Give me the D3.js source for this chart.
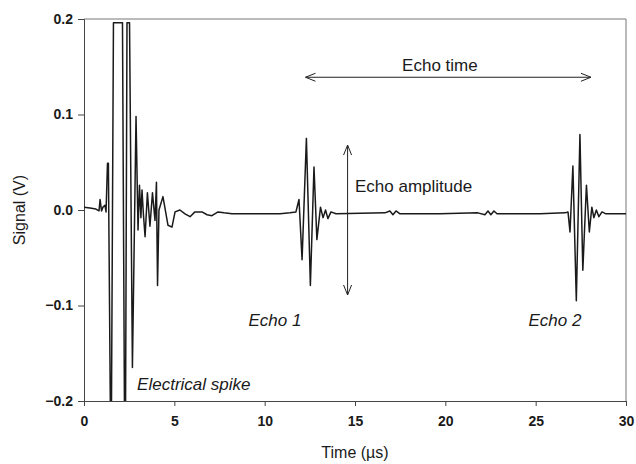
<!DOCTYPE html>
<html>
<head>
<meta charset="utf-8">
<script src="https://cdn.jsdelivr.net/npm/d3@7"></script>
<style>
  html, body { margin: 0; padding: 0; background: #fff; }
  svg text { font-family: 'Liberation Sans', Arial, sans-serif; fill: #1a1a1a; }
</style>
</head>
<body>
<div id="chart"></div>
<script>
// Ultrasonic pulse-echo trace: time (µs) vs signal (V)
const TIME = [
  0, 0.33, 0.66, 0.83, 0.89, 0.97, 1.05, 1.16, 1.22, 1.30, 1.35,
  1.46, 1.52, 1.63, 2.13, 2.24, 2.30, 2.38, 2.52, 2.68, 2.88,
  2.99, 3.07, 3.15, 3.21, 3.29, 3.38, 3.51, 3.65, 3.79, 3.93, 4.01, 4.07, 4.15,
  4.37, 4.65, 4.87, 5.04, 5.31, 5.59, 5.87, 6.14, 6.53, 6.81, 7.08, 7.42, 7.75,
  8.19, 8.91, 9.74, 10.85, 11.40, 11.73,
  11.90, 12.07, 12.31, 12.53, 12.73, 12.89, 13.09, 13.23, 13.37, 13.50, 13.67, 13.95,
  16.66, 16.93, 17.10, 17.27, 17.49, 19.70, 21.80, 22.19, 22.36, 22.52, 22.69, 22.86,
  25.24, 26.62, 26.79,
  26.90, 27.06, 27.25, 27.45, 27.61, 27.81, 27.97, 28.11, 28.22, 28.36, 28.50, 28.67, 28.89,
  30
];
const SIGNAL = [
  0.003, 0.002, 0.001, -0.001, 0.011, -0.001, 0.003, 0.005, -0.002, 0.049, 0.049,
  -0.21, -0.21, 0.196, 0.196, -0.21, -0.21, 0.196, 0.196, -0.165, 0.098,
  -0.021, 0.026, -0.008, 0.021, -0.005, -0.028, 0.018, -0.017, 0.018, -0.011, 0.029, -0.079, 0.0,
  0.014, -0.016, -0.018, -0.002, 0.0, -0.004, -0.007, -0.002, -0.002, -0.005, -0.006, -0.002, -0.003,
  -0.004, -0.004, -0.004, -0.004, -0.003, -0.002,
  0.011, -0.052, 0.075, -0.079, 0.045, -0.031, 0.003, -0.008, 0.0, -0.009, -0.002, -0.004,
  -0.003, -0.001, -0.005, -0.001, -0.004, -0.004, -0.003, -0.005, -0.001, -0.005, -0.001, -0.004,
  -0.004, -0.003, -0.002,
  -0.023, 0.046, -0.095, 0.079, -0.063, 0.026, -0.023, 0.003, -0.008, 0.0, -0.007, -0.002, -0.004,
  -0.004
];
const X_TICKS = [0, 5, 10, 15, 20, 25, 30];
const Y_TICKS = [0.2, 0.1, 0.0, -0.1, -0.2];
const X_LABEL = 'Time (\u00b5s)';
const Y_LABEL = 'Signal (V)';

// annotations, in data units
const ECHO_TIME = { t0: 12.26, t1: 28.06, v: 0.139, label: 'Echo time', lt: 19.7, lv: 0.146 };
const ECHO_AMP = { t: 14.59, v0: 0.068, v1: -0.089, label: 'Echo amplitude', lt: 15.0, lv: 0.019 };
const LABELS = [
  { text: 'Echo 1', t: 9.1, v: -0.121 },
  { text: 'Echo 2', t: 24.6, v: -0.121 },
  { text: 'Electrical spike', t: 2.94, v: -0.188 }
];

const W = 636, H = 464;
const margin = { top: 19, right: 10, bottom: 63, left: 84 };
const innerW = W - margin.left - margin.right;
const innerH = H - margin.top - margin.bottom;

const svg = d3.select('#chart').append('svg').attr('width', W).attr('height', H);
const g = svg.append('g').attr('transform', `translate(${margin.left},${margin.top})`);

const x = d3.scaleLinear().domain([0, 30]).range([0, innerW]);
const y = d3.scaleLinear().domain([-0.2, 0.2]).range([innerH, 0]);

svg.append('defs').append('clipPath').attr('id', 'plotclip')
  .append('rect').attr('width', innerW).attr('height', innerH);

// frame (top/right lighter)
g.append('line').attr('x1', 0).attr('x2', innerW).attr('y1', 0).attr('y2', 0)
  .attr('stroke', '#777').attr('stroke-width', 1);
g.append('line').attr('x1', innerW).attr('x2', innerW).attr('y1', 0).attr('y2', innerH)
  .attr('stroke', '#777').attr('stroke-width', 1);

const xAxis = g.append('g').attr('transform', `translate(0,${innerH})`)
  .call(d3.axisBottom(x).tickValues(X_TICKS).tickSize(5).tickPadding(10).tickFormat(d3.format('d')));
const yAxis = g.append('g')
  .call(d3.axisLeft(y).tickValues(Y_TICKS).tickSize(6).tickPadding(5).tickFormat(d3.format('.1f')));

[xAxis, yAxis].forEach(a => {
  a.select('.domain').attr('stroke', '#444');
  a.selectAll('.tick line').attr('stroke', '#444');
  a.selectAll('.tick text')
    .style('font-family', "'Liberation Sans', Arial, sans-serif")
    .style('font-size', '14px').style('font-weight', 'bold').attr('fill', '#1a1a1a');
});

// signal trace
const pts = TIME.map((t, i) => [t, SIGNAL[i]]);
g.append('path').datum(pts)
  .attr('clip-path', 'url(#plotclip)')
  .attr('fill', 'none').attr('stroke', '#1a1a1a').attr('stroke-width', 1.5)
  .attr('stroke-linejoin', 'round')
  .attr('d', d3.line().x(d => x(d[0])).y(d => y(d[1])));

// open arrowhead helper
function head(px, py, dx, dy) {
  const len = 10, half = 4;
  const nx = -dy, ny = dx;
  return `M${px - dx * len + nx * half},${py - dy * len + ny * half}L${px},${py}L${px - dx * len - nx * half},${py - dy * len - ny * half}`;
}
const arrowStyle = p => p.attr('fill', 'none').attr('stroke', '#222').attr('stroke-width', 1);

// echo time arrow
const ex0 = x(ECHO_TIME.t0), ex1 = x(ECHO_TIME.t1), ey = y(ECHO_TIME.v);
arrowStyle(g.append('path').attr('d', `M${ex0},${ey}L${ex1},${ey}` + head(ex1, ey, 1, 0) + head(ex0, ey, -1, 0)));
g.append('text').attr('x', x(ECHO_TIME.lt)).attr('y', y(ECHO_TIME.lv))
  .attr('text-anchor', 'middle').style('font-size', '17px').text(ECHO_TIME.label);

// echo amplitude arrow
const ax = x(ECHO_AMP.t), ay0 = y(ECHO_AMP.v0), ay1 = y(ECHO_AMP.v1);
arrowStyle(g.append('path').attr('d', `M${ax},${ay0}L${ax},${ay1}` + head(ax, ay0, 0, -1) + head(ax, ay1, 0, 1)));
g.append('text').attr('x', x(ECHO_AMP.lt)).attr('y', y(ECHO_AMP.lv))
  .style('font-size', '17px').text(ECHO_AMP.label);

g.selectAll('.note').data(LABELS).enter().append('text')
  .attr('x', d => x(d.t)).attr('y', d => y(d.v))
  .style('font-size', '17px').style('font-style', 'italic').text(d => d.text);

// axis titles
svg.append('text').attr('x', margin.left + innerW / 2).attr('y', 458)
  .attr('text-anchor', 'middle').style('font-size', '16px').text(X_LABEL);
svg.append('text').attr('transform', `translate(25,${margin.top + innerH / 2}) rotate(-90)`)
  .attr('text-anchor', 'middle').style('font-size', '16px').text(Y_LABEL);
</script>
</body>
</html>
